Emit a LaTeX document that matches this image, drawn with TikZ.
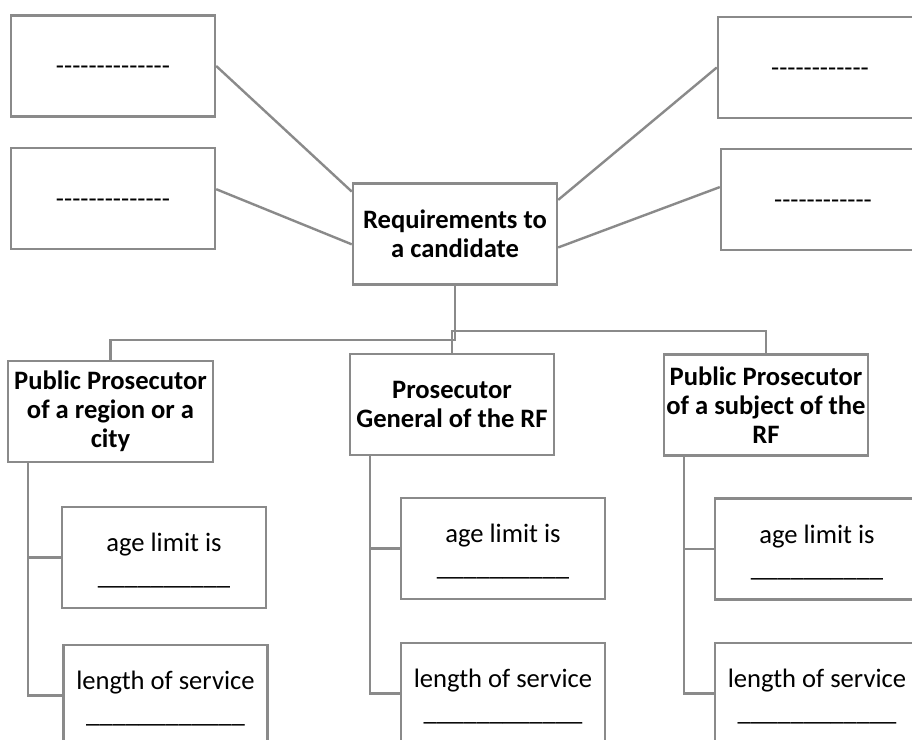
\documentclass[tikz,border=0pt]{standalone}
\usepackage{fontspec}
\setmainfont{Carlito}[Ligatures=TeXOff]
\usetikzlibrary{calc}
\definecolor{linegray}{RGB}{138,138,138}
\newcommand{\regtxt}{\fontsize{26.6bp}{33bp}\selectfont}
\newcommand{\boldtxt}{\fontsize{26.6bp}{29bp}\selectfont\bfseries}
\newcommand{\topstrut}{\rule{0pt}{25bp}}
\tikzset{
  box/.style={draw=linegray, line width=2.4bp, fill=white, minimum width=204bp,
    minimum height=101bp, inner sep=0pt, align=center, font=\regtxt, text=black},
  dashbox/.style={box, text height=18bp, text depth=0bp},
  titlebox/.style={box, font=\boldtxt},
  conn/.style={draw=linegray, line width=2.4bp, line join=miter}
}
\begin{document}
\begin{tikzpicture}[x=1bp,y=-1bp]
\useasboundingbox (0,0) rectangle (912,740);
\fill[white] (0,0) rectangle (912,740);
\clip (0,0) rectangle (912,740);

% top level
\node[titlebox] (req) at (455,234) {Requirements to\\a candidate};
\node[dashbox] (tl) at (113,66) {--------------};
\node[dashbox] (ml) at (113,198.5) {--------------};
\node[dashbox] (tr) at (820,67.5) {------------};
\node[dashbox] (mr) at (823,199.5) {------------};

\draw[conn] (tl.east) -- ($(req.north west)!0.09!(req.south west)$);
\draw[conn] ($(ml.north east)!0.41!(ml.south east)$) -- ($(req.north west)!0.6!(req.south west)$);
\draw[conn] ($(req.north east)!0.17!(req.south east)$) -- (tr.west);
\draw[conn] ($(req.north east)!0.63!(req.south east)$) -- ($(mr.north west)!0.38!(mr.south west)$);

% second level
\node[titlebox, minimum width=205bp] (L) at (110.5,411.5) {Public Prosecutor\\of a region or a\\city};
\node[titlebox] (M) at (452,404.5) {Prosecutor\\General of the RF};
\node[titlebox] (R) at (766,405) {Public Prosecutor\\of a subject of the\\RF};

\draw[conn] (req.south) -- ++(0,54) -| (L.north);
\draw[conn] (M.north) -- ++(0,-22) -| (R.north);

% third level
\node[box] (La) at (164,557.5) {\topstrut age limit is\\\_\_\_\_\_\_\_\_\_\_};
\node[box] (Ll) at (165.5,695.5) {\topstrut length of service\\\_\_\_\_\_\_\_\_\_\_\_\_};
\node[box] (Ma) at (503,548.5) {\topstrut age limit is\\\_\_\_\_\_\_\_\_\_\_};
\node[box] (Ml) at (503,693.5) {\topstrut length of service\\\_\_\_\_\_\_\_\_\_\_\_\_};
\node[box] (Ra) at (817,549) {\topstrut age limit is\\\_\_\_\_\_\_\_\_\_\_};
\node[box] (Rl) at (817,693.5) {\topstrut length of service\\\_\_\_\_\_\_\_\_\_\_\_\_};

\draw[conn] ([xshift=21bp]L.south west) |- (La.west);
\draw[conn] ([xshift=21bp]L.south west) |- (Ll.west);
\draw[conn] ([xshift=21bp]M.south west) |- (Ma.west);
\draw[conn] ([xshift=21bp]M.south west) |- (Ml.west);
\draw[conn] ([xshift=21bp]R.south west) |- (Ra.west);
\draw[conn] ([xshift=21bp]R.south west) |- (Rl.west);
\end{tikzpicture}
\end{document}
